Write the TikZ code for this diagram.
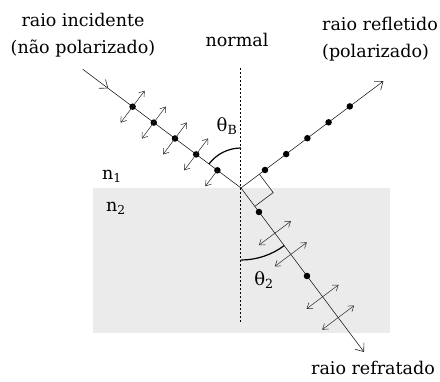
\documentclass[tikz,border=0pt]{standalone}
\usepackage{fontspec}
\setmainfont{DejaVu Serif}
\usetikzlibrary{positioning,arrows.meta,calc}
\tikzset{
  ray/.style={line width=0.6pt, black!85},
  rayend/.style={ray, -{Straight Barb[length=7pt,width=11pt]}},
  pol/.style={line width=0.5pt, black!85, {Straight Barb[length=5pt,width=7pt]}-{Straight Barb[length=5pt,width=7pt]}},
  polhalf/.style={line width=0.5pt, black!85, -{Straight Barb[length=5pt,width=7pt]}},
  dot/.style={circle, fill=black, inner sep=0pt, minimum size=6.5pt},
  lbl/.style={font=\fontsize{17.5}{27}\selectfont, align=center, inner sep=0pt},
  anglbl/.style={font=\fontsize{18}{22}\selectfont, inner sep=0pt},
  angarc/.style={line width=1.2pt},
}

\begin{document}
\begin{tikzpicture}[x=1pt,y=1pt]
  \useasboundingbox (-241,-194) rectangle (199,188);
  \fill[black!8] (-148,0) rectangle (149,-145);

  \coordinate (O) at (0,0);
  \coordinate (top) at (0,120);
  \coordinate (bot) at (0,-135);
  \draw[dash pattern=on 2pt off 2pt, line width=1pt] (top) -- (bot);

  \coordinate (src) at (143.13:198);
  \coordinate (mid) at (143.13:166);
  \coordinate (rfl) at (36.87:178);
  \coordinate (rfr) at (-53.13:205);
  \draw[rayend] (src) -- (mid);
  \draw[ray] (mid) -- (O);
  \draw[rayend] (O) -- (rfl);
  \draw[rayend] (O) -- (rfr);

  \coordinate (c1) at (36.87:23);
  \coordinate (c3) at (-53.13:23);
  \coordinate (c2) at ($(c1)+(c3)$);
  \draw[ray] (c1) -- (c2) -- (c3);

  \draw[angarc] (143.13:40) arc[start angle=143.13, end angle=90, radius=40];
  \draw[angarc] (-90:72) arc[start angle=-90, end angle=-53.13, radius=72];

  \node[dot] (i1) at (143.13:29.5) {};
  \node[dot] (i2) at (143.13:56) {};
  \node[dot] (i3) at (143.13:82.5) {};
  \node[dot] (i4) at (143.13:109) {};
  \node[dot] (i5) at (143.13:135.5) {};
  \draw[polhalf] (i1.center) -- ([shift={(233.13:20)}]i1.center);
  \draw[pol] ([shift={(233.13:20)}]i2.center) -- ([shift={(53.13:20)}]i2.center);
  \draw[pol] ([shift={(233.13:20)}]i3.center) -- ([shift={(53.13:20)}]i3.center);
  \draw[pol] ([shift={(233.13:20)}]i4.center) -- ([shift={(53.13:20)}]i4.center);
  \draw[pol] ([shift={(233.13:20)}]i5.center) -- ([shift={(53.13:20)}]i5.center);

  \node[dot] (r1) at (36.87:30) {};
  \node[dot] (r2) at (36.87:56.5) {};
  \node[dot] (r3) at (36.87:83) {};
  \node[dot] (r4) at (36.87:109.5) {};
  \node[dot] (r5) at (36.87:136) {};

  \node[dot] (t1) at (-53.13:30) {};
  \node[dot] (t2) at (-53.13:110) {};
  \coordinate (a1) at (-53.13:56.5);
  \coordinate (a2) at (-53.13:83);
  \coordinate (a3) at (-53.13:136);
  \coordinate (a4) at (-53.13:162);
  \draw[pol] ([shift={(216.87:20)}]a1) -- ([shift={(36.87:20)}]a1);
  \draw[pol] ([shift={(216.87:20)}]a2) -- ([shift={(36.87:20)}]a2);
  \draw[pol] ([shift={(216.87:20)}]a3) -- ([shift={(36.87:20)}]a3);
  \draw[pol] ([shift={(216.87:20)}]a4) -- ([shift={(36.87:20)}]a4);

  \node[lbl] (incl) at (-158,153) {raio incidente\\(não polarizado)};
  \node[lbl] (norml) at (-4,148) {normal};
  \node[lbl, align=left, anchor=east] (refll) at (197,149) {raio refletido\\(polarizado)};
  \node[lbl] (n1l) at (-129,12) {n\textsubscript{1}};
  \node[lbl] (n2l) at (-125,-20) {n\textsubscript{2}};
  \node[anglbl] (thB) at (-14,62) {θ\textsubscript{B}};
  \node[anglbl] (th2) at (23,-92) {θ\textsubscript{2}};
  \node[lbl] (refrl) at (132,-180) {raio refratado};
\end{tikzpicture}
\end{document}
